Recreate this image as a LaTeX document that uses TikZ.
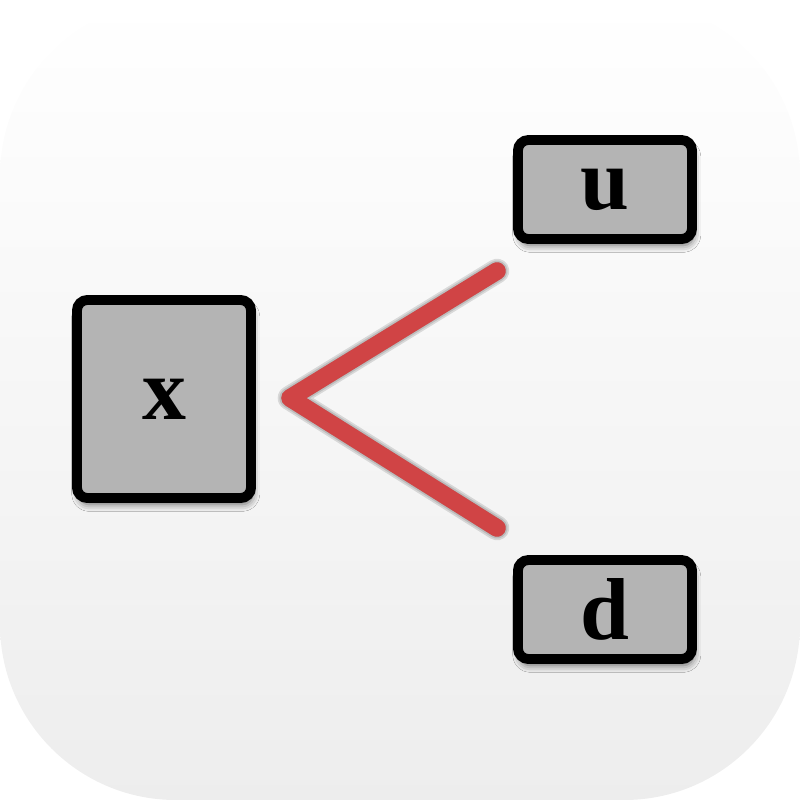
\documentclass[tikz,border=0pt]{standalone}
\usepackage{fontspec}
\setmainfont{Liberation Serif}
\usetikzlibrary{shadows.blur}
\definecolor{boxgray}{HTML}{B4B4B4}
\definecolor{linkred}{HTML}{D04445}
\begin{document}
\begin{tikzpicture}[x=0.01cm,y=-0.01cm,
  boxnode/.style={draw=black, line width=2.8pt, fill=boxgray, rounded corners=3pt,
    inner sep=0pt, font=\fontsize{25}{30}\selectfont\bfseries,
    blur shadow={shadow xshift=0.5pt, shadow yshift=-1.8pt, shadow blur radius=2pt, shadow opacity=60}},
  link/.style={draw=linkred, line width=5pt, line cap=round, line join=round},
  linkshadow/.style={draw=black, line cap=round, line join=round, opacity=0.12}]
\useasboundingbox (0,0) rectangle (800,800);
\shade[top color=white, bottom color=black!7, rounded corners=50pt] (0,0) rectangle (800,800);
\node[boxnode, minimum width=1.74cm, minimum height=1.98cm] (x) at (164,399) {x};
\node[boxnode, minimum width=1.74cm, minimum height=0.99cm] (u) at (605,189.5) {u};
\node[boxnode, minimum width=1.74cm, minimum height=0.99cm] (d) at (605,609.5) {d};
\coordinate (a) at (497,271);
\coordinate (v) at (290,398);
\coordinate (b) at (497,528);
\begin{scope}[shift={(2,6)}]
\foreach \w in {7,6,5} {\path[linkshadow, line width=\w pt] (a) -- (v) -- (b);}
\end{scope}
\path[link] (a) -- (v) -- (b);
\end{tikzpicture}
\end{document}
